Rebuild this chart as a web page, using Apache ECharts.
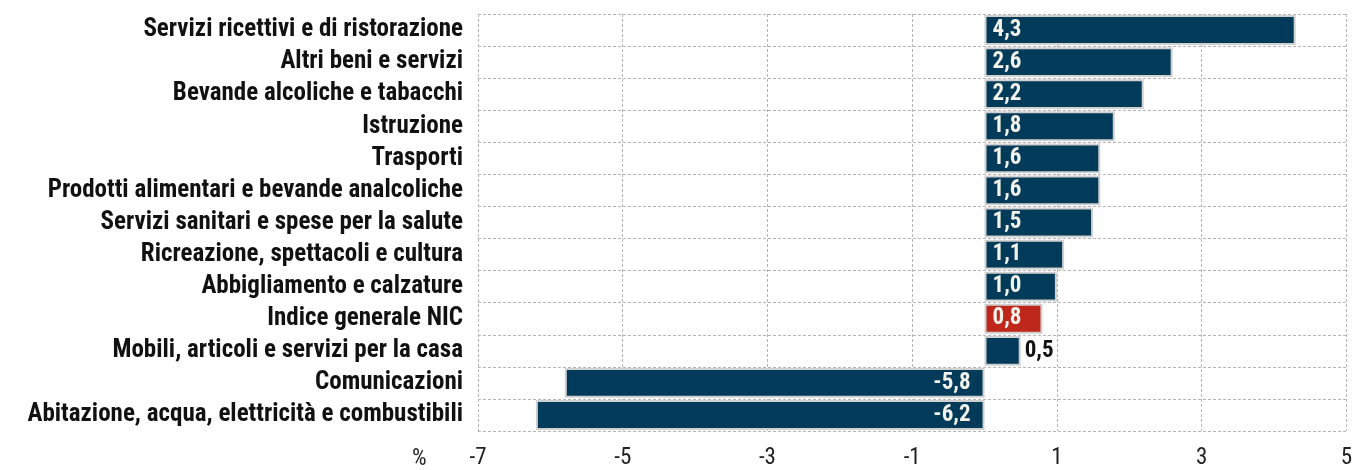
<!DOCTYPE html>
<html>
<head>
<meta charset="utf-8">
<script src="https://cdn.jsdelivr.net/npm/echarts@6/dist/echarts.min.js"></script>
<style>
html,body{margin:0;padding:0;background:#fff;}
#main{width:1355px;height:470px;}
</style>
</head>
<body>
<div id="main"></div>
<script>
const categories = [
  "Servizi ricettivi e di ristorazione",
  "Altri beni e servizi",
  "Bevande alcoliche e tabacchi",
  "Istruzione",
  "Trasporti",
  "Prodotti alimentari e bevande analcoliche",
  "Servizi sanitari e spese per la salute",
  "Ricreazione, spettacoli e cultura",
  "Abbigliamento e calzature",
  "Indice generale NIC",
  "Mobili, articoli e servizi per la casa",
  "Comunicazioni",
  "Abitazione, acqua, elettricità e combustibili"
];
const values = [4.3, 2.6, 2.2, 1.8, 1.6, 1.6, 1.5, 1.1, 1.0, 0.8, 0.5, -5.8, -6.2];
const highlightCategory = "Indice generale NIC";
const xTicks = [-7, -5, -3, -1, 1, 3, 5];

const FONT = "'Roboto Condensed', 'Arial Narrow', sans-serif";
const NAVY = '#023a5a';
const RED = '#c0271b';
const fmt = v => v.toFixed(1).replace('.', ',');

const data = values.map((v, i) => {
  const isHi = categories[i] === highlightCategory;
  const small = Math.abs(v) < 0.7;
  let label;
  if (v < 0) {
    label = {position: 'insideRight', distance: 14, color: '#f2f2ea'};
  } else if (small) {
    label = {position: 'right', distance: 4, color: '#111'};
  } else {
    label = {position: 'insideLeft', distance: 8, color: '#f2f2ea'};
  }
  return {value: v, itemStyle: {color: isHi ? RED : NAVY}, label: label};
});

const chart = echarts.init(document.getElementById('main'), null, {renderer: 'canvas'});
chart.setOption({
  animation: false,
  backgroundColor: '#fff',
  grid: {left: 478, right: 7, top: 14, bottom: 38, containLabel: false},
  xAxis: {
    type: 'value', min: xTicks[0], max: xTicks[xTicks.length - 1], interval: 2,
    axisLine: {show: false}, axisTick: {show: false},
    axisLabel: {fontFamily: FONT, fontSize: 23, color: '#222', margin: 16,
      formatter: v => String(v).replace('.', ',')},
    splitLine: {show: true, lineStyle: {type: [3, 2], color: '#b5b5b5', width: 1}}
  },
  yAxis: {
    type: 'category', data: categories, inverse: true,
    axisLine: {show: false}, axisTick: {show: false},
    axisLabel: {interval: 0, fontFamily: FONT, fontSize: 25, fontWeight: 'bold', color: '#111', margin: 15,
      padding: [5, 0, 0, 0]},
    splitLine: {show: true, interval: 0, lineStyle: {type: [3, 2], color: '#b5b5b5', width: 1}}
  },
  graphic: [{
    type: 'text', left: 412, top: 448,
    style: {text: '%', fontFamily: FONT, fontSize: 23, fill: '#222'}
  }],
  series: [{
    type: 'bar', data: data, barCategoryGap: '7%',
    itemStyle: {borderColor: '#d0d0d0', borderWidth: 2},
    label: {show: true, fontFamily: FONT, fontSize: 23, fontWeight: 'bold',
      formatter: p => fmt(p.value)}
  }]
});
</script>
</body>
</html>
